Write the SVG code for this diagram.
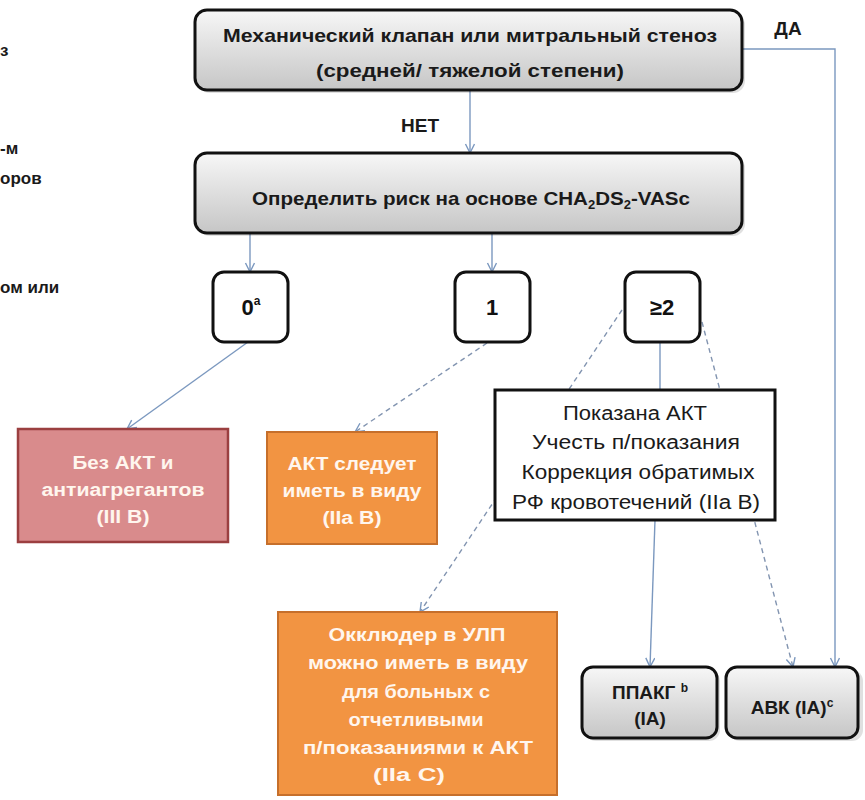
<svg xmlns="http://www.w3.org/2000/svg" width="865" height="800" viewBox="0 0 865 800">
<defs>
<linearGradient id="gray" x1="0" y1="0" x2="0" y2="1">
<stop offset="0" stop-color="#f7f7f7"/>
<stop offset="0.5" stop-color="#dedede"/>
<stop offset="1" stop-color="#c6c6c6"/>
</linearGradient>
<marker id="arr" markerWidth="14" markerHeight="14" refX="10" refY="5" orient="auto" markerUnits="userSpaceOnUse">
<path d="M1,0.5 L10,5 L1,9.5" fill="none" stroke="#7b98bf" stroke-width="1.4"/>
</marker>
<style>
.t{font-family:"Liberation Sans",Arial,sans-serif;font-weight:bold;font-size:19px;fill:#1a1a1a;text-anchor:middle}
.w{font-family:"Liberation Sans",Arial,sans-serif;font-weight:bold;font-size:18px;fill:#fff6ee;text-anchor:middle}
.n{font-family:"Liberation Sans",Arial,sans-serif;font-weight:normal;font-size:20px;fill:#1a1a1a;text-anchor:middle}
.big{font-family:"Liberation Sans",Arial,sans-serif;font-weight:bold;font-size:22px;fill:#111;text-anchor:middle}
.frag{font-family:"Liberation Sans",Arial,sans-serif;font-weight:bold;font-size:17px;fill:#1a1a1a}
.gbox{fill:url(#gray);stroke:#111;stroke-width:3}
.shadow{fill:#000;opacity:0.12}
.sbox{fill:#fff;stroke:#111;stroke-width:3}
.pink{fill:#d98b8c;stroke:#9b3f40;stroke-width:2.5}
.orange{fill:#f29442;stroke:#c66f2b;stroke-width:2}
.c{fill:none;stroke:#7b98bf;stroke-width:1.4}
.d{fill:none;stroke:#8294b0;stroke-width:1.4;stroke-dasharray:5,4}
</style>
</defs>
<rect width="865" height="800" fill="#fff"/>

<g id="fragments">
<text class="frag" x="0" y="56">з</text>
<text class="frag" x="0" y="154">-м</text>
<text class="frag" x="0" y="184">оров</text>
<text class="frag" x="0" y="293">ом или</text>
</g>

<g id="connectors">
<line class="c" x1="470" y1="90" x2="470" y2="153" marker-end="url(#arr)"/>
<polyline class="c" points="742,49 835,49 835,667" marker-end="url(#arr)"/>
<line class="c" x1="250" y1="233" x2="250" y2="272" marker-end="url(#arr)"/>
<line class="c" x1="492" y1="233" x2="492" y2="272" marker-end="url(#arr)"/>
<line class="c" x1="248" y1="342" x2="127" y2="429" marker-end="url(#arr)"/>
<line class="d" x1="487" y1="343" x2="355" y2="432" marker-end="url(#arr)"/>
<line class="d" x1="622" y1="310" x2="420" y2="612" marker-end="url(#arr)"/>
<line class="d" x1="702" y1="322" x2="793" y2="667" marker-end="url(#arr)"/>
<line class="c" x1="660" y1="342" x2="660" y2="390"/>
<line class="c" x1="655" y1="520" x2="650" y2="667" marker-end="url(#arr)"/>
<text class="t" x="420" y="132">НЕТ</text>
<text class="t" x="788" y="35">ДА</text>
</g>

<g id="node-valve">
<rect class="shadow" x="198" y="13" width="547" height="80" rx="12"/>
<rect class="gbox" x="195" y="10" width="547" height="80" rx="12"/>
<text class="t" x="470" y="42" textLength="494" lengthAdjust="spacingAndGlyphs">Механический клапан или митральный стеноз</text>
<text class="t" x="470" y="77" textLength="308" lengthAdjust="spacingAndGlyphs">(средней/ тяжелой степени)</text>
</g>

<g id="node-risk">
<rect class="shadow" x="198" y="156" width="547" height="80" rx="12"/>
<rect class="gbox" x="195" y="153" width="547" height="80" rx="12"/>
<text class="t" x="471" y="205" textLength="438" lengthAdjust="spacingAndGlyphs">Определить риск на основе CHA<tspan font-size="12" dy="4">2</tspan><tspan dy="-4">DS</tspan><tspan font-size="12" dy="4">2</tspan><tspan dy="-4">-VASc</tspan></text>
</g>

<g id="node-0">
<rect class="sbox" x="213" y="272" width="75" height="70" rx="11"/>
<text class="big" x="251" y="315">0<tspan font-size="12" dy="-10">a</tspan></text>
</g>

<g id="node-1">
<rect class="sbox" x="455" y="272" width="75" height="70" rx="11"/>
<text class="big" x="492" y="315">1</text>
</g>

<g id="node-2">
<rect class="sbox" x="625" y="272" width="75" height="70" rx="11"/>
<text class="big" x="662" y="315">≥2</text>
</g>

<g id="node-noakt">
<rect class="pink" x="18" y="429" width="210" height="113"/>
<text class="w" x="123" y="469" textLength="101" lengthAdjust="spacingAndGlyphs">Без АКТ и</text>
<text class="w" x="123" y="496" textLength="163" lengthAdjust="spacingAndGlyphs">антиагрегантов</text>
<text class="w" x="123" y="523" textLength="53" lengthAdjust="spacingAndGlyphs">(III B)</text>
</g>

<g id="node-akt-consider">
<rect class="orange" x="267" y="432" width="170" height="112"/>
<text class="w" x="352" y="470" textLength="129" lengthAdjust="spacingAndGlyphs">АКТ следует</text>
<text class="w" x="352" y="497" textLength="139" lengthAdjust="spacingAndGlyphs">иметь в виду</text>
<text class="w" x="352" y="524" textLength="59" lengthAdjust="spacingAndGlyphs">(IIa B)</text>
</g>

<g id="node-akt-indicated">
<rect x="495" y="390" width="280" height="130" fill="#fff" stroke="#111" stroke-width="3"/>
<text class="n" x="635" y="420" textLength="144" lengthAdjust="spacingAndGlyphs">Показана АКТ</text>
<text class="n" x="636" y="449" textLength="208" lengthAdjust="spacingAndGlyphs">Учесть п/показания</text>
<text class="n" x="638" y="479" textLength="233" lengthAdjust="spacingAndGlyphs">Коррекция обратимых</text>
<text class="n" x="636" y="509" textLength="248" lengthAdjust="spacingAndGlyphs">РФ кровотечений (IIa B)</text>
</g>

<g id="node-occluder">
<rect class="orange" x="278" y="612" width="279" height="183"/>
<text class="w" x="417" y="641" textLength="177" lengthAdjust="spacingAndGlyphs">Окклюдер в УЛП</text>
<text class="w" x="418" y="669" textLength="220" lengthAdjust="spacingAndGlyphs">можно иметь в виду</text>
<text class="w" x="416" y="698" textLength="148" lengthAdjust="spacingAndGlyphs">для больных с</text>
<text class="w" x="416" y="726" textLength="135" lengthAdjust="spacingAndGlyphs">отчетливыми</text>
<text class="w" x="418" y="754" textLength="230" lengthAdjust="spacingAndGlyphs">п/показаниями к АКТ</text>
<text class="w" x="409" y="781" textLength="72" lengthAdjust="spacingAndGlyphs">(IIa C)</text>
</g>

<g id="node-noac">
<rect class="shadow" x="585" y="670" width="135" height="71" rx="11"/>
<rect class="gbox" x="582" y="667" width="135" height="71" rx="11"/>
<text class="t" x="650" y="699">ППАКГ <tspan font-size="12" dy="-7">b</tspan></text>
<text class="t" x="650" y="725">(IA)</text>
</g>

<g id="node-vka">
<rect class="shadow" x="729" y="670" width="134" height="71" rx="11"/>
<rect class="gbox" x="726" y="667" width="132" height="71" rx="11"/>
<text class="t" x="792" y="714">АВК (IA)<tspan font-size="12" dy="-7">c</tspan></text>
</g>
</svg>
